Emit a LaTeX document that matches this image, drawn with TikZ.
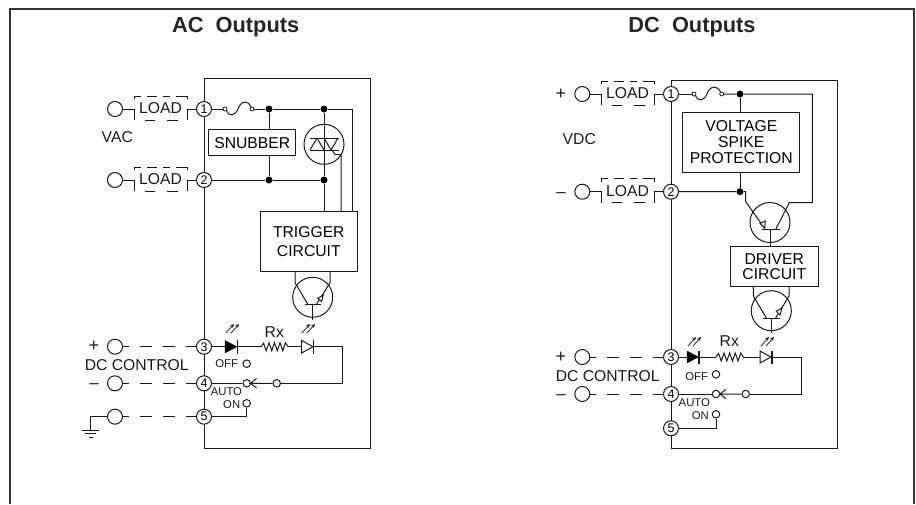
\documentclass[tikz,border=0pt]{standalone}
\usepackage{fontspec}
\setmainfont{Liberation Sans}
\usetikzlibrary{arrows.meta}
\tikzset{
  wire/.style={line width=1pt, black!90},
  dash line/.style={wire, dash pattern=on 12pt off 11pt, dash phase=6.5pt},
  term/.style={circle, draw=black!90, line width=1pt, fill=white, minimum size=15pt, inner sep=0pt, font=\fontsize{12.5}{12.5}\selectfont},
  port/.style={circle, draw=black!90, line width=1pt, fill=white, minimum size=15pt, inner sep=0pt},
  pin/.style={circle, draw=black!90, line width=1pt, fill=white, minimum size=7.5pt, inner sep=0pt},
  tiny pin/.style={circle, draw=black!90, line width=0.8pt, fill=white, minimum size=4pt, inner sep=0pt},
  dot/.style={circle, fill=black, minimum size=7pt, inner sep=0pt},
  ring/.style={circle, draw=black!90, line width=1pt, minimum size=40pt, inner sep=0pt},
  blockbox/.style={draw=black!90, line width=1pt, fill=white, inner sep=0pt, align=center, font=\fontsize{15.7}{16}\selectfont},
  lbl/.style={inner sep=0pt, text=black!90, font=\fontsize{15.7}{16}\selectfont},
  sign/.style={inner sep=0pt, text=black!90, font=\fontsize{18}{18}\selectfont},
  minus sign/.style={sign, yshift=-3pt, font=\fontsize{17}{10}\selectfont},
  small lbl/.style={inner sep=0pt, text=black!90, font=\fontsize{11.3}{12}\selectfont},
  heading/.style={inner sep=0pt, font=\fontsize{21.8}{22}\selectfont\bfseries, text=black!85},
}
% load box with its two solid stubs
\newcommand{\loadbox}[4]{% x, y of terminal line, port name, terminal name
  \draw [wire] (#1,#2-10) -- (#1,#2-13) -- (#1+7,#2-13);
  \draw [wire] (#1+13,#2-13) -- (#1+23,#2-13);
  \draw [wire] (#1+29,#2-13) -- (#1+36,#2-13);
  \draw [wire] (#1+42,#2-13) -- (#1+53,#2-13) -- (#1+53,#2-10);
  \draw [wire] (#1+11,#2+11) -- (#1+21,#2+11);
  \draw [wire] (#1+33,#2+11) -- (#1+44,#2+11);
  \draw [wire] (#3) -- (#1,#2) -- (#1,#2+11);
  \draw [wire] (#4) -- (#1+53,#2) -- (#1+53,#2+11);
  \node [lbl] at (#1+26.5,#2-1) {LOAD};
}
\newcommand{\fuse}[3]{% x start, x end, y
  \node [tiny pin] (fa) at (#1,#3) {};
  \node [tiny pin] (fb) at (#2,#3) {};
  \draw [wire] (#1+1.5,#3+1.5) .. controls (#1+4,#3+8) and (#1+10,#3+7) .. (#1+13,#3) .. controls (#1+16,#3-9) and (#1+24,#3-9) .. (#2-1,#3-1.5);
}
\newcommand{\ledrays}[2]{% x, y
  \draw [line width=0.75pt, black!90, -{Stealth[length=4pt,width=3.5pt]}] (#1,#2) -- (#1+8,#2-9);
  \draw [line width=0.75pt, black!90, -{Stealth[length=4pt,width=3.5pt]}] (#1+5,#2) -- (#1+13,#2-9);
}
\newcommand{\resistor}[3]{% x start, x end, y
  \draw [wire] (#1,#3) -- ++(2.5,-3.5)
    \foreach \k in {1,...,4} { -- ({#1+2.5+(\k-0.5)*(#2-#1-5)/4},#3+4) -- ({#1+2.5+\k*(#2-#1-5)/4},#3-4) }
    -- (#2,#3);
}
\begin{document}
\begin{tikzpicture}[x=1pt,y=-1pt]
\useasboundingbox (0,0) rectangle (916,504);

% frame
\draw [black!80, line width=2pt] (10,504) -- (10,8.5) -- (914,8.5) -- (914,504);

\node [heading] (ac title) at (235.7,27.5) {AC\ \ Outputs};
\node [heading] (dc title) at (692,27.5) {DC\ \ Outputs};

% AC side
\draw [wire] (204,78) rectangle (370,448);

\node [term] (a1) at (204,109) {1};
\node [term] (a2) at (204,180) {2};
\node [term] (a3) at (204,346.7) {3};
\node [term] (a4) at (204,383.3) {4};
\node [term] (a5) at (204,416.7) {5};
\node [port] (p1) at (115,109) {};
\node [port] (p2) at (115,180) {};
\node [port] (p3) at (115,346.7) {};
\node [port] (p4) at (115,383.3) {};
\node [port] (p5) at (115,416.7) {};

\loadbox{134}{109}{p1}{a1}
\loadbox{134}{180}{p2}{a2}
\node [lbl] (vac) at (117.3,137.3) {VAC};

\draw [dash line] (p3) -- (a3);
\draw [dash line] (p4) -- (a4);
\draw [dash line] (p5) -- (a5);

\fuse{225}{252}{109}
\node [dot] (j1) at (269,109) {};
\node [dot] (j2) at (324,109) {};
\node [dot] (j3) at (269,180) {};
\node [dot] (j4) at (324,180) {};
\draw [wire] (a1) -- (fa);
\draw [wire] (fb) -- (j1) -- (j2) -- (352.3,109) -- (352.3,211.7);
\draw [wire] (a2) -- (j3) -- (j4);
\draw [wire] (j1) -- (j3);
\draw [wire] (j2) -- (j4) -- (324,211.7);
\node [blockbox, minimum width=86.7pt, minimum height=25.7pt] (snubber) at (252.3,142.8) {SNUBBER};

% triac
\node [ring] (triac) at (324,144.3) {};
\draw [wire] (310,138) -- (339,138);
\draw [wire] (310,150) -- (339,150);
\draw [wire] (310,150) -- (317,138) -- (324,150);
\draw [wire] (324,138) -- (331,150) -- (338,138);
\draw [wire] (332,150) -- (335,154.7) -- (341,154.7) -- (341,211.7);

\node [blockbox, minimum width=97pt, minimum height=60.3pt, font=\fontsize{15.7}{19}\selectfont] (trigger) at (308.8,241.8) {TRIGGER\\CIRCUIT};

% phototransistor under trigger
\node [ring] (qa) at (312.7,297.3) {};
\draw [wire] (295,272) -- (295,282.7) -- (307.7,304);
\draw [wire] (330,272) -- (330,282.7) -- (316.7,304);
\draw [wire] (305,304) -- (321,304);
\draw [wire] (312.7,304) -- (312.7,320);
\draw [wire, fill=white] (323.3,295) -- (317.7,298.3) -- (321.5,301.5) -- cycle;

% control row
\draw [wire] (a3) -- (261,346.7);
\draw [black!90, fill=black] (225,340.5) -- (237,346.7) -- (225,353) -- cycle;
\draw [wire, line width=1.4pt] (237.5,340) -- (237.5,353.5);
\resistor{261}{288}{346.7}
\draw [wire] (288,346.7) -- (301.7,346.7);
\draw [wire, fill=white] (301.7,340.5) -- (313,346.7) -- (301.7,353) -- cycle;
\draw [wire, line width=1.4pt] (313.5,340) -- (313.5,353.5);
\ledrays{226}{333}
\ledrays{302}{333}
\node [lbl] (rx a) at (274.3,331.7) {Rx};

\node [pin] (off a) at (246.7,363.7) {};
\node [pin] (on a) at (246.7,403.3) {};
\node [pin] (sw a) at (246.7,383.3) {};
\node [pin] (sw b) at (276.7,383.3) {};
\draw [wire] (313.5,346.7) -- (342.3,346.7) -- (342.3,383.3) -- (sw b);
\draw [wire] (sw b) -- (250.5,383.3) -- (256.5,378.5);
\draw [wire] (250.5,383.3) -- (256.5,388);
\draw [wire] (a4) -- (sw a);
\draw [wire] (a5) -- (246.7,416.7) -- (on a);
\node [small lbl] (off lbl a) at (226.7,364) {OFF};
\node [small lbl] (auto lbl a) at (226.4,392) {AUTO};
\node [small lbl] (on lbl a) at (231.7,404.7) {ON};

\node [sign] (plus a) at (94,346.7) {+};
\node [minus sign] (minus a) at (94,383.3) {–};
\node [lbl] (ctl a) at (136.7,365.3) {DC CONTROL};

% ground
\draw [wire] (p5) -- (90.7,416.7) -- (90.7,430);
\draw [wire] (82,430) -- (99,430);
\draw [wire] (85,433.7) -- (96,433.7);
\draw [wire] (89,437) -- (92.5,437);

% DC side
\draw [wire] (671,80) rectangle (837.3,448);

\node [term] (d1) at (671,94) {1};
\node [term] (d2) at (671,191.7) {2};
\node [term] (d3) at (671,357) {3};
\node [term] (d4) at (671,394) {4};
\node [term] (d5) at (671,428.3) {5};
\node [port] (q1) at (582.3,94) {};
\node [port] (q2) at (582.3,191.7) {};
\node [port] (q3) at (582.3,357) {};
\node [port] (q4) at (582.3,394) {};

\loadbox{601}{94}{q1}{d1}
\loadbox{601}{191.7}{q2}{d2}
\node [sign] (plus b) at (561,94) {+};
\node [minus sign] (minus b) at (561,191.7) {–};
\node [lbl] (vdc) at (579.3,139) {VDC};

\draw [dash line] (q3) -- (d3);
\draw [dash line] (q4) -- (d4);

\fuse{694}{721.7}{94}
\node [dot] (k1) at (740,94) {};
\node [dot] (k2) at (740,191.7) {};
\draw [wire] (d1) -- (fa);
\draw [wire] (fb) -- (k1) -- (812.3,94) -- (812.3,202.7) -- (789.3,202.7) -- (775.7,229.3);
\draw [wire] (d2) -- (k2) -- (745.7,191.7) -- (745.7,201.7) -- (764.5,228.3);
\draw [wire] (k1) -- (k2);
\node [blockbox, minimum width=117.3pt, minimum height=59.7pt] (spike) at (741.3,142.2) {VOLTAGE\\SPIKE\\PROTECTION};

\node [ring] (qb) at (770,222.5) {};
\draw [wire] (761.7,229.3) -- (780,229.3);
\draw [wire, fill=white] (760,223.5) -- (765.2,221) -- (764.8,228) -- cycle;

\node [blockbox, minimum width=88pt, minimum height=39.3pt, font=\fontsize{15.7}{15}\selectfont] (driver) at (774.3,266.4) {DRIVER\\CIRCUIT};
\draw [wire] (770,229.3) -- (770,246.7);

\node [ring] (qc) at (771.3,310.7) {};
\draw [wire] (753.3,286) -- (753.3,296) -- (766.5,318.3);
\draw [wire] (789,286) -- (789,296) -- (775.5,318.3);
\draw [wire] (762.7,318.3) -- (780,318.3);
\draw [wire] (771.3,318.3) -- (771.3,332.7);
\draw [wire, fill=white] (782,308) -- (776.3,311.3) -- (780,315) -- cycle;

\draw [wire] (d3) -- (716,357);
\draw [black!90, fill=black] (687,351) -- (698.5,357) -- (687,363) -- cycle;
\draw [wire, line width=1.4pt] (699,350.5) -- (699,363.5);
\resistor{716}{743.3}{357}
\draw [wire] (743.3,357) -- (760,357);
\draw [wire, fill=white] (760,351) -- (771,357) -- (760,363) -- cycle;
\draw [wire, line width=1.4pt] (772,350.5) -- (772,363.5);
\ledrays{688}{346}
\ledrays{761}{346}
\node [lbl] (rx b) at (729.3,341) {Rx};

\node [pin] (off b) at (716,374.3) {};
\node [pin] (on b) at (716,414.3) {};
\node [pin] (sw c) at (716,394) {};
\node [pin] (sw d) at (745.7,394) {};
\draw [wire] (772,357) -- (801.3,357) -- (801.3,394) -- (sw d);
\draw [wire] (sw d) -- (720,394) -- (726,389.3);
\draw [wire] (720,394) -- (726,398.7);
\draw [wire] (d4) -- (sw c);
\draw [wire] (d5) -- (716,428.3) -- (on b);
\node [small lbl] (off lbl b) at (696.7,377) {OFF};
\node [small lbl] (auto lbl b) at (694.3,402.3) {AUTO};
\node [small lbl] (on lbl b) at (700.3,416) {ON};

\node [sign] (plus c) at (561,357) {+};
\node [minus sign] (minus c) at (561,394) {–};
\node [lbl] (ctl b) at (607.7,376.3) {DC CONTROL};

\end{tikzpicture}
\end{document}
